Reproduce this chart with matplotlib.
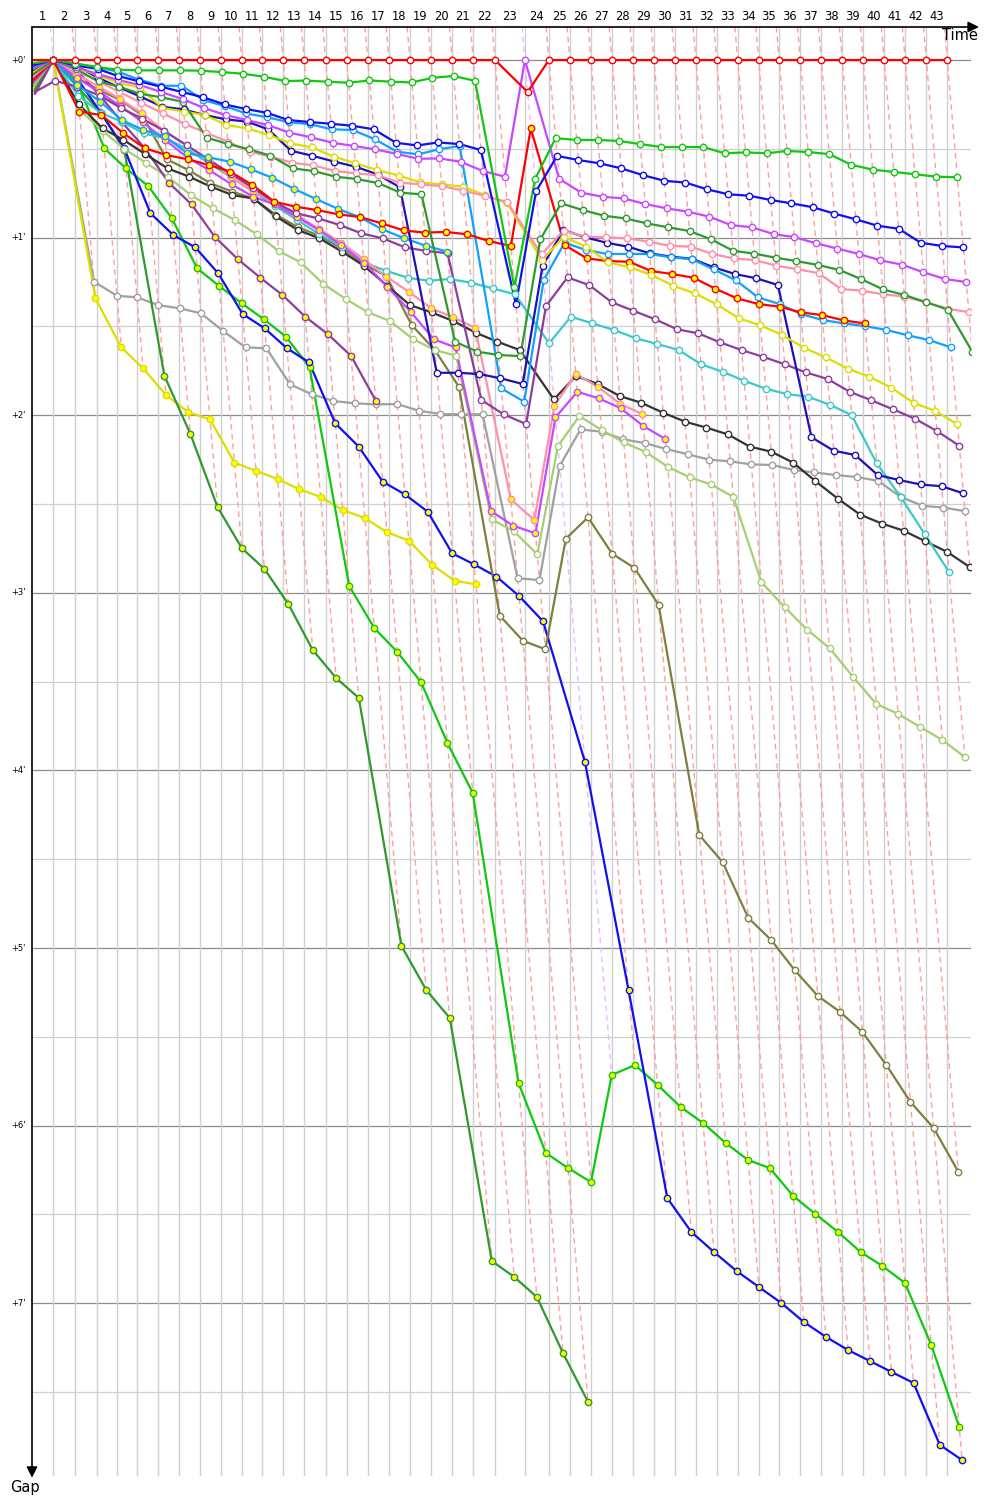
import matplotlib
matplotlib.use("Agg")
import matplotlib.pyplot as plt
import matplotlib.colors as mcolors

# leader's cumulative race time (minutes) at the end of each lap, lap 0 = start
lap_end = [0.00, 1.40, 2.83, 4.26, 5.57, 6.93, 8.31, 9.69, 11.05, 12.43,
           13.80, 15.15, 16.53, 17.91, 19.32, 20.70, 22.09, 23.49, 24.87, 26.25,
           27.65, 29.03, 30.46, 32.43, 34.01, 35.39, 36.78, 38.16, 39.54, 40.92,
           42.30, 43.68, 45.05, 46.43, 47.81, 49.16, 50.55, 51.93, 53.31, 54.69,
           56.07, 57.45, 58.84, 60.22]

# gap to leader (minutes) for each car, one value per completed lap
gap_red = [0.00, 0.00, 0.00, 0.00, 0.00, 0.00, 0.00, 0.00, 0.00, 0.00,
           0.00, 0.00, 0.00, 0.00, 0.00, 0.00, 0.00, 0.00, 0.00, 0.00,
           0.00, 0.00, 0.00, 0.18, 0.00, 0.00, 0.00, 0.00, 0.00, 0.00,
           0.00, 0.00, 0.00, 0.00, 0.00, 0.00, 0.00, 0.00, 0.00, 0.00,
           0.00, 0.00, 0.00, 0.00]
gap_green = [0.02, 0, .02, .04, .054, .058, .058, .058, .06, .068,
             .077, .094, .118, .116, .122, .128, .115, .122, .126, .10,
             .09, .117, 1.28, .67, .44, .45, .45, .456, .473, .49,
             .49, .49, .525, .52, .525, .512, .518, .53, .59, .617,
             .63, .643, .657, .66]
gap_blue = [0.03, 0, .03, .05, .09, .12, .15, .18, .21, .25,
            .276, .297, .338, .349, .359, .37, .39, .466, .481, .464,
            .473, .507, 1.376, .738, .54, .563, .582, .61, .648, .68,
            .69, .728, .756, .764, .788, .807, .829, .865, .897, .933,
            .95, 1.029, 1.047, 1.055]
gap_violet = [0.05, 0, .04, .079, .113, .14, .18, .22, .27, .31,
              .338, .366, .409, .435, .466, .484, .503, .529, .556, .554,
              .573, .625, .657, 0, .668, .747, .77, .779, .811, .835,
              .854, .882, .929, .942, .98, .997, 1.032, 1.062, 1.092, 1.128,
              1.152, 1.195, 1.233, 1.25]
gap_dkgreen = [0.08, 0, .05, .12, .15, .19, .21, .235, .437, .473,
               .503, .539, .61, .625, .657, .67, .693, .747, .756, 1.586,
               1.642, 1.661, 1.667, 1.01, .807, .845, .877, .892, .92, .942,
               .963, 1.01, 1.074, 1.09, 1.113, 1.132, 1.154, 1.182, 1.233, 1.291,
               1.323, 1.363, 1.405, 1.642]
gap_pink = [0.09, 0, .06, .12, .18, .24, .30, .36, .41, .46,
            .516, .544, .578, .593, .625, .638, .649, .69, .70, .71,
            .735, .765, .80, 1.094, .96, .995, .998, 1.004, 1.023, 1.046,
            1.051, 1.092, 1.117, 1.126, 1.158, 1.178, 1.20, 1.289, 1.299, 1.319,
            1.332, 1.365, 1.40, 1.42]
gap_ltblue = [0.04, 0, .02, .04, .065, .11, .145, .145, .225, .26,
              .301, .322, .35, .361, .39, .394, .445, .516, .531, .503,
              .484, 1.849, 1.924, 1.239, 1.029, 1.07, 1.092, 1.092, 1.092, 1.111,
              1.122, 1.179, 1.239, 1.336, 1.374, 1.43, 1.464, 1.483, 1.498, 1.52,
              1.55, 1.577, 1.618]
gap_red_y = [0.11, 0, .29, .31, .41, .497, .535, .559, .591, .629,
             .704, .798, .826, .845, .869, .884, .92, .959, .972, .968,
             .981, 1.019, 1.047, .385, 1.042, 1.117, 1.132, 1.136, 1.188, 1.205,
             1.226, 1.288, 1.342, 1.374, 1.389, 1.421, 1.436, 1.466, 1.483]
gap_yellow = [0.07, 0, .04, .085, .13, .155, .27, .29, .31, .366,
              .385, .422, .469, .492, .544, .582, .619, .651, .689, .70,
              .713, .76, .807, 1.126, .995, 1.051, 1.139, 1.167, 1.21, 1.271,
              1.314, 1.376, 1.454, 1.494, 1.548, 1.62, 1.674, 1.738, 1.783, 1.845,
              1.93, 1.976, 2.051]
gap_purple = [0.18, 0.117, .15, .2, .27, .33, .40, .48, .56, .64,
              .72, .80, .863, .891, .929, .976, 1.004, 1.055, 1.075, 1.088,
              1.914, 1.995, 2.05, 1.385, 1.224, 1.267, 1.364, 1.412, 1.46, 1.516,
              1.539, 1.59, 1.633, 1.671, 1.713, 1.759, 1.796, 1.868, 1.916, 1.967,
              2.02, 2.089, 2.172]
gap_teal = [0.10, 0, .2, .3, .347, .413, .44, .50, .58, .66,
            .74, .82, .90, .98, 1.05, 1.14, 1.186, 1.226, 1.243, 1.233,
            1.254, 1.286, 1.319, 1.595, 1.445, 1.483, 1.52, 1.567, 1.599, 1.633,
            1.713, 1.755, 1.806, 1.851, 1.881, 1.896, 1.941, 2.0, 2.271, 2.46,
            2.67, 2.883]
gap_navy = [0.06, 0, .03, .10, .154, .206, .263, .278, .31, .334,
            .347, .39, .511, .539, .572, .601, .644, .717, 1.761, 1.761,
            1.768, 1.792, 1.824, 1.16, .957, .998, 1.029, 1.051, 1.088, 1.107,
            1.119, 1.167, 1.205, 1.229, 1.267, 2.124, 2.2, 2.224, 2.337, 2.365,
            2.39, 2.40, 2.44]
gap_black = [0.12, 0, .25, .385, .45, .53, .61, .657, .713, .76,
             .78, .88, .957, 1.004, 1.079, 1.16, 1.27, 1.38, 1.421, 1.47,
             1.535, 1.586, 1.633, 1.911, 1.779, 1.824, 1.892, 1.93, 1.986, 2.036,
             2.07, 2.108, 2.177, 2.205, 2.267, 2.37, 2.47, 2.56, 2.61, 2.65,
             2.71, 2.77, 2.855]
gap_olive = [0.13, 0, .10, .17, .225, .31, .559, .62, .694, .741,
             .78, .87, .94, .99, 1.06, 1.15, 1.216, 1.492, 1.633, 1.84,
             3.129, 3.27, 3.318, 2.695, 2.575, 2.78, 2.86, 3.069, 4.364, 4.516,
             4.831, 4.955, 5.124, 5.27, 5.36, 5.473, 5.659, 5.867, 6.014, 6.261]
gap_ltgreen = [0.14, 0, .28, .40, .50, .58, .66, .76, .835, .90,
               .981, 1.075, 1.139, 1.261, 1.347, 1.421, 1.47, 1.571, 1.633, 1.665,
               2.586, 2.652, 2.783, 2.173, 2.005, 2.083, 2.153, 2.207, 2.29, 2.35,
               2.39, 2.46, 2.94, 3.08, 3.209, 3.311, 3.474, 3.626, 3.682, 3.756,
               3.829, 3.925]
gap_gray = [0.15, 0, 1.248, 1.327, 1.336, 1.38, 1.398, 1.426, 1.526, 1.618,
            1.623, 1.826, 1.882, 1.92, 1.933, 1.939, 1.937, 1.975, 1.993, 1.995,
            1.995, 2.918, 2.928, 2.286, 2.08, 2.093, 2.136, 2.157, 2.19, 2.22,
            2.25, 2.26, 2.277, 2.28, 2.309, 2.322, 2.337, 2.348, 2.37, 2.46,
            2.51, 2.52, 2.54]
gap_yellow_y = [0.16, 0, 1.342, 1.618, 1.736, 1.886, 1.984, 2.023, 2.267, 2.314,
                2.359, 2.416, 2.46, 2.534, 2.579, 2.659, 2.706, 2.843, 2.932, 2.952]
gap_dkgreen_y = [0.17, 0, .15, .30, .507, 1.777, 2.104, 2.517, 2.748, 2.866,
                 3.063, 3.322, 3.48, 3.592, 4.989, 5.236, 5.394, 6.762, 6.852, 6.965,
                 7.28, 7.556]
gap_green_y = [0.13, 0, .12, .497, .61, .709, .891, 1.173, 1.273, 1.37,
               1.46, 1.558, 1.73, 2.962, 3.198, 3.333, 3.502, 3.846, 4.127, 5.76,
               6.154, 6.239, 6.318, 5.715, 5.659, 5.771, 5.895, 5.985, 6.098, 6.194,
               6.239, 6.396, 6.498, 6.599, 6.712, 6.791, 6.886, 7.235, 7.697]
gap_blue_y = [0.14, 0, .1, .3, .497, .863, .985, 1.055, 1.201, 1.43,
              1.511, 1.623, 1.702, 2.046, 2.177, 2.374, 2.446, 2.543, 2.778, 2.84,
              2.909, 3.018, 3.16, 3.953, 5.236, 6.408, 6.599, 6.712, 6.819, 6.909,
              6.999, 7.106, 7.19, 7.264, 7.326, 7.387, 7.449, 7.798, 7.883]
gap_purple_y = [0.19, 0, .05, .2, .35, .497, .691, .813, .998, 1.122,
                1.226, 1.323, 1.445, 1.543, 1.665, 1.918]
gap_violet_y = [0.12, 0, .10, .18, .26, .35, .45, .55, .62, .70,
                .77, .813, .882, .957, 1.042, 1.141, 1.276, 1.417, 1.573, 1.618,
                2.539, 2.622, 2.665, 2.012, 1.868, 1.905, 1.961, 2.061, 2.134]
gap_pink_y = [0.10, 0, .08, .15, .22, .30, .40, .48, .56, .66,
              .74, .80, .87, .95, 1.03, 1.12, 1.22, 1.305, 1.398, 1.449,
              1.507, 2.474, 2.59, 1.946, 1.768, 1.84, 1.937, 1.993]
gap_ltblue_y = [0.09, 0, .14, .235, .338, .394, .43, .525, .548, .572,
                .616, .663, .726, .783, .839, .886, .953, 1.004, 1.046, 1.079]

cars = [
  (gap_gray, '#A0A0A0', 'white'),
  (gap_yellow_y, '#DDDD00', '#FFFF00'),
  (gap_dkgreen_y, '#2E9A2E', '#FFFF00'),
  (gap_green_y, '#10C810', '#FFFF00'),
  (gap_blue_y, '#1010F0', '#FFFF00'),
  (gap_olive, '#7F7F40', 'white'),
  (gap_ltgreen, '#A6CE72', 'white'),
  (gap_purple_y, '#8E3C9E', '#FFFF00'),
  (gap_black, '#333333', 'white'),
  (gap_teal, '#3CC8C8', 'white'),
  (gap_pink_y, '#FF8FAA', '#FFFF00'),
  (gap_violet_y, '#C847FF', '#FFFF00'),
  (gap_purple, '#8E3C9E', 'white'),
  (gap_ltblue_y, '#10A0FF', '#FFFF00'),
  (gap_navy, '#2010B8', 'white'),
  (gap_ltblue, '#10A0FF', 'white'),
  (gap_red_y, '#FF0000', '#FFFF00'),
  (gap_yellow, '#DDDD00', 'white'),
  (gap_pink, '#FF8FAA', 'white'),
  (gap_dkgreen, '#2E9A2E', 'white'),
  (gap_violet, '#C847FF', 'white'),
  (gap_blue, '#1010F0', 'white'),
  (gap_green, '#10C810', 'white'),
  (gap_red, '#FF0000', 'white'),
]

X_MAX = 61.78
G_TOP = -0.186
G_BOT = 7.973


def lighten(color, amount=0.6):
  r, g, b = mcolors.to_rgb(color)
  return (r + (1 - r) * amount, g + (1 - g) * amount, b + (1 - b) * amount)


def main():
  fig = plt.figure(figsize=(10, 15), dpi=100)
  ax = fig.add_axes([0.032, 0.016, 0.939, 0.966])
  ax.set_xlim(0, X_MAX)
  ax.set_ylim(G_BOT, G_TOP)
  ax.axis('off')

  # horizontal grid, whole and half minutes
  for k in range(16):
    g = k * 0.5
    col = '#8C8C8C' if k % 2 == 0 else '#D0D0D0'
    ax.plot([0, X_MAX], [g, g], color=col, lw=0.9, zorder=1)

  # vertical line at each lap of the leader
  for t in lap_end[1:]:
    ax.plot([t, t], [G_TOP, G_BOT], color='#CFCFCF', lw=1.0, zorder=1)

  # dashed lap lines, in the lap leader's colour
  for n in range(1, len(lap_end)):
    on_lap = [(c[0][n], c[1]) for c in cars if len(c[0]) > n]
    gmax = max(g for g, _ in on_lap)
    lead_col = min(on_lap, key=lambda p: p[0])[1]
    t = lap_end[n]
    ax.plot([t + G_TOP, t + gmax], [G_TOP, gmax], color=lighten(lead_col, 0.62),
            lw=1.0, ls=(0, (4, 3)), zorder=2)

  # cars
  for gaps, col, face in cars:
    xs = [lap_end[i] + g for i, g in enumerate(gaps)]
    ax.plot(xs, gaps, color=col, lw=1.6, zorder=3, solid_joinstyle='round')
    ax.plot(xs[1:], gaps[1:], ls='none', marker='o', ms=4.6, mfc=face,
            mec=col, mew=1.0, zorder=4)

  # axes with arrows
  ax.annotate('', xy=(62.3, G_TOP), xytext=(0, G_TOP), annotation_clip=False,
              arrowprops=dict(arrowstyle='-|>', color='black', lw=1.2,
                              mutation_scale=16, shrinkA=0, shrinkB=0))
  ax.annotate('', xy=(0, G_BOT + 0.01), xytext=(0, G_TOP), annotation_clip=False,
              arrowprops=dict(arrowstyle='-|>', color='black', lw=1.2,
                              mutation_scale=16, shrinkA=0, shrinkB=0))

  for n in range(1, len(lap_end)):
    mid = (lap_end[n - 1] + lap_end[n]) / 2
    ax.text(mid, -0.245, str(n), ha='center', va='center', fontsize=8.3)

  for m in range(8):
    ax.text(-0.45, m, "+%d'" % m, ha='right', va='center', fontsize=6)

  ax.text(62.2, -0.14, 'Time', ha='right', va='center', fontsize=10.5)
  ax.text(-0.45, 8.035, 'Gap', ha='center', va='center', fontsize=10.5)

  fig.savefig('out.png', dpi=100)


if __name__ == '__main__':
  main()
